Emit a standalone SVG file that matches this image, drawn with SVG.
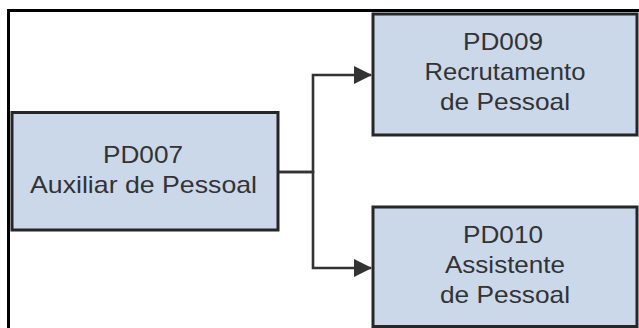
<svg xmlns="http://www.w3.org/2000/svg" width="639" height="328" viewBox="0 0 639 328">
<style>
.box{fill:#cbd8ea;stroke:#262626;stroke-width:3}
.t{font-family:"Liberation Sans",Arial,sans-serif;font-size:24px;fill:#333;text-anchor:middle}
.c{fill:none;stroke:#333;stroke-width:2.6}
</style>
<defs>
<marker id="ah" viewBox="0 0 18 18" refX="17" refY="9" markerWidth="18" markerHeight="18" markerUnits="userSpaceOnUse" orient="auto">
<path d="M0,0 L18,9 L0,18 z" fill="#333"/>
</marker>
</defs>
<rect width="639" height="328" fill="#fff"/>
<path d="M8.5,328 V10.5 H639" fill="none" stroke="#000" stroke-width="3"/>
<g id="PD007">
<rect class="box" x="12" y="112.5" width="266" height="117.5"/>
<text class="t" x="143" y="163" textLength="80" lengthAdjust="spacingAndGlyphs">PD007</text>
<text class="t" x="143.5" y="193" textLength="227" lengthAdjust="spacingAndGlyphs">Auxiliar de Pessoal</text>
</g>
<g id="PD009">
<rect class="box" x="373" y="14" width="264" height="121"/>
<text class="t" x="503" y="50" textLength="80" lengthAdjust="spacingAndGlyphs">PD009</text>
<text class="t" x="505" y="80" textLength="161" lengthAdjust="spacingAndGlyphs">Recrutamento</text>
<text class="t" x="505" y="110" textLength="130" lengthAdjust="spacingAndGlyphs">de Pessoal</text>
</g>
<g id="PD010">
<rect class="box" x="373" y="207" width="264" height="119.5"/>
<text class="t" x="503" y="243" textLength="80" lengthAdjust="spacingAndGlyphs">PD010</text>
<text class="t" x="505" y="273" textLength="120" lengthAdjust="spacingAndGlyphs">Assistente</text>
<text class="t" x="505" y="303" textLength="130" lengthAdjust="spacingAndGlyphs">de Pessoal</text>
</g>
<g id="connectors">
<path class="c" d="M279,172 H313 V75 H371" marker-end="url(#ah)"/>
<path class="c" d="M279,172 H313 V268 H371" marker-end="url(#ah)"/>
</g>
</svg>
